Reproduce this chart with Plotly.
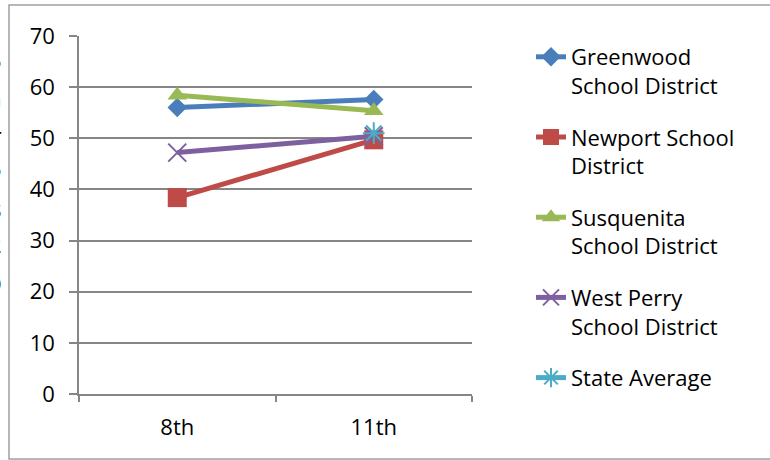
import plotly.graph_objects as go

grades = ["8th", "11th"]
greenwood = [56.0, 57.6]
newport = [38.4, 49.7]
susquenita = [58.4, 55.4]
west_perry = [47.2, 50.4]
state_avg = [None, 51.0]

y_ticks = [0, 10, 20, 30, 40, 50, 60, 70]
edge_fragments = ["5", "n", "4", "5", "8", "2", "9"]
edge_fragment_px = [60, 98, 128, 168, 209, 244, 284]

W, H = 770, 460
L, R, T, B = 79, 298, 36, 66
pw, ph = W - L - R, H - T - B

FONT = "Open Sans"

series = [
    ("Greenwood<br>School District", greenwood, "#4A7EBB", "diamond", 15, {}),
    ("Newport School<br>District", newport, "#BE4B48", "square", 19, {}),
    ("Susquenita<br>School District", susquenita, "#98B954", "triangle-up", 17, {}),
    ("West Perry<br>School District", west_perry, "#7D60A0", "x-thin-open", 18, {"line": {"width": 2, "color": "#7D60A0"}}),
    ("State Average", state_avg, "#4BACC6", "asterisk-open", 18, {"line": {"width": 2, "color": "#4BACC6"}}),
]

fig = go.Figure()
for i, (name, vals, col, sym, sz, extra) in enumerate(series):
    mk = dict(symbol=sym, size=sz, color=col)
    mk.update(extra)
    fig.add_trace(go.Scatter(
        x=grades, y=vals, name=name, mode="lines+markers",
        line=dict(color=col, width=5), marker=mk,
        legendgroup="g%d" % i, connectgaps=False,
    ))

fig.update_layout(
    width=W, height=H,
    margin=dict(l=L, r=R, t=T, b=B),
    paper_bgcolor="white", plot_bgcolor="white",
    font=dict(family=FONT, size=22, color="black"),
    showlegend=True,
    legend=dict(
        x=(531 - L) / pw, y=(H - B - 36) / ph, xanchor="left", yanchor="top",
        font=dict(family=FONT, size=22, color="black"),
        tracegroupgap=20, valign="top", bgcolor="rgba(0,0,0,0)",
        maxheight=2000,
    ),
    xaxis=dict(
        type="category", range=[-0.5, 1.5], tickson="boundaries", ticks="outside", ticklen=6,
        tickcolor="#868686", tickwidth=1.5, showline=True, linecolor="#868686",
        linewidth=1.5, showgrid=False, zeroline=False,
        tickfont=dict(family=FONT, size=22), ticklabelstandoff=13,
    ),
    yaxis=dict(
        range=[0, 70], tickvals=y_ticks, ticks="outside", ticklen=8,
        tickcolor="#868686", tickwidth=1.5, showline=True, linecolor="#868686",
        linewidth=1.5, showgrid=True, gridcolor="#868686", gridwidth=1.5,
        zeroline=False, tickfont=dict(family=FONT, size=22), ticklabelstandoff=10,
    ),
)

# outer chart border
fig.add_shape(type="rect", xref="paper", yref="paper",
              x0=(9 - L) / pw, x1=(W + 5 - L) / pw,
              y0=(H - B - 459) / ph, y1=(H - B - 5) / ph,
              line=dict(color="#A0A0A0", width=1.5), fillcolor="rgba(0,0,0,0)", layer="below")

for txt, py in zip(edge_fragments, edge_fragment_px):
    fig.add_annotation(text=txt, xref="paper", yref="paper",
                       x=(4 - L) / pw, y=(H - B - py) / ph,
                       xanchor="right", yanchor="middle", showarrow=False,
                       font=dict(family=FONT, size=22, color="black"))

fig.write_html("out.html", config={"displayModeBar": False},
               post_script="document.body.style.margin='0';document.body.style.overflow='hidden';")
